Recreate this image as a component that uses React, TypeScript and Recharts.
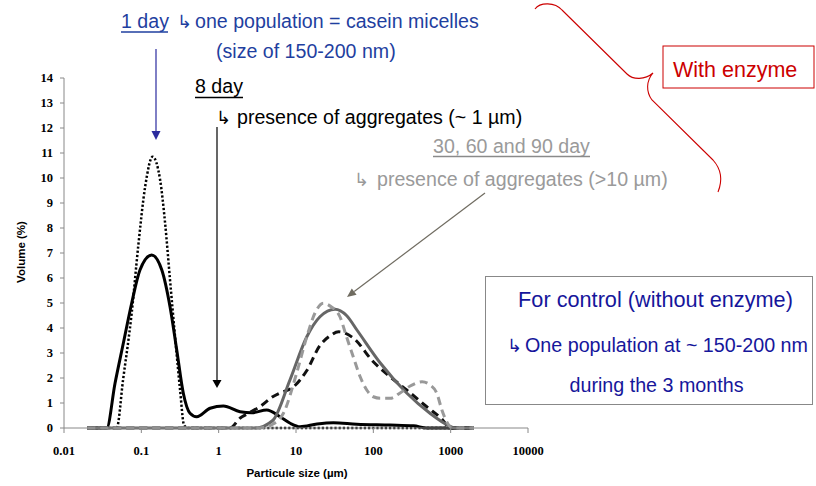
import React from 'react';
import { LineChart, Line, XAxis, YAxis } from 'recharts';

// Axis ticks
const sizeTicks = [0.01, 0.1, 1, 10, 100, 1000, 10000];
const volumeTicks = [0, 1, 2, 3, 4, 5, 6, 7, 8, 9, 10, 11, 12, 13, 14];

// 1 day (dotted black)
const day1Sizes = [0.02, 0.03, 0.04, 0.048, 0.058, 0.075, 0.091, 0.112, 0.14, 0.175, 0.203, 0.235, 0.273, 0.317, 0.356, 0.4, 0.6, 1, 2, 5, 10, 30, 100, 300, 1000, 2000];
const day1Volumes = [0, 0, 0, 0, 1.92, 4.59, 7.25, 9.65, 10.85, 9.92, 8.19, 5.92, 3.65, 1.52, 0.12, 0, 0, 0, 0, 0, 0, 0, 0, 0, 0, 0];

// 8 day (solid black)
const day8Sizes = [0.02, 0.03, 0.0357, 0.0457, 0.0585, 0.075, 0.096, 0.136, 0.184, 0.235, 0.287, 0.349, 0.426, 0.52, 0.775, 1.15, 1.89, 2.68, 4.19, 6.2, 8.4, 11.3, 18.7, 30.5, 61, 165, 331, 490, 1000, 2000];
const day8Volumes = [0, 0, 0, 1.79, 3.39, 4.99, 6.32, 6.92, 6.32, 4.85, 3.12, 1.39, 0.59, 0.45, 0.79, 0.88, 0.65, 0.61, 0.72, 0.45, 0.19, 0.05, 0.16, 0.21, 0.15, 0.12, 0.09, 0, 0, 0];

// 30 day (dashed black)
const day30Sizes = [0.02, 1.0, 1.4, 1.9, 2.3, 3.4, 5.0, 6.2, 9.3, 13.8, 20.4, 27.9, 35.5, 55, 100, 165, 270, 490, 790, 980, 2000];
const day30Volumes = [0, 0, 0, 0.4, 0.55, 0.85, 1.25, 1.4, 1.65, 2.3, 3.3, 3.7, 3.85, 3.6, 2.65, 2.05, 1.52, 0.85, 0.32, 0, 0];

// 60 day (solid grey)
const day60Sizes = [0.02, 1, 3, 5, 8.3, 13.8, 20.4, 32, 45, 62, 123, 270, 535, 940, 1150, 2000];
const day60Volumes = [0, 0, 0, 0.3, 1.9, 3.65, 4.45, 4.75, 4.5, 3.9, 2.6, 1.4, 0.6, 0.1, 0, 0];

// 90 day (dashed light grey)
const day90Sizes = [0.02, 1, 3.4, 5, 6.9, 10.2, 13.8, 17.6, 22.6, 28.5, 37, 45, 55, 67.6, 83, 100, 123, 165, 222, 300, 427, 543, 660, 770, 890, 1035, 2000];
const day90Volumes = [0, 0, 0, 0.15, 0.6, 2.2, 3.65, 4.6, 4.99, 4.85, 4.45, 3.65, 2.85, 2.05, 1.5, 1.25, 1.19, 1.19, 1.4, 1.68, 1.85, 1.72, 1.4, 0.72, 0.25, 0, 0];

const toRows = (xs: number[], ys: number[]) => xs.map((x, i) => ({ size: x, volume: ys[i] }));

const day1Rows = toRows(day1Sizes, day1Volumes);
const day8Rows = toRows(day8Sizes, day8Volumes);
const day30Rows = toRows(day30Sizes, day30Volumes);
const day60Rows = toRows(day60Sizes, day60Volumes);
const day90Rows = toRows(day90Sizes, day90Volumes);

const SANS = 'Liberation Sans, Arial, sans-serif';
const GLYPH = 'DejaVu Sans, sans-serif';
const BLUE = '#1f3f9f';
const NAVY = '#16169b';
const GREY_TXT = '#9a9a9a';
const RED = '#cc0000';

function Hook({ x, y, color }: { x: number; y: number; color: string }) {
  return (
    <text x={x} y={y} fontFamily={GLYPH} fontSize={18} fill={color}>↳</text>
  );
}

export default function App() {
  const tickStyle = { fill: '#000', fontFamily: 'Liberation Serif, Times New Roman, serif', fontWeight: 'bold', fontSize: 12.5 };
  return (
    <div style={{ position: 'absolute', left: 0, top: 0, width: 816, height: 486, background: '#fff' }}>
      <LineChart width={816} height={486} margin={{ top: 78, right: 288, bottom: 28, left: 24 }}>
        <XAxis
          type="number"
          dataKey="size"
          scale="log"
          domain={[0.01, 10000]}
          ticks={sizeTicks}
          allowDataOverflow
          interval={0}
          height={30}
          stroke="#888"
          tickSize={5}
          tickMargin={13}
          tick={tickStyle}
          tickFormatter={(v: number) => String(v)}
        />
        <YAxis
          type="number"
          domain={[0, 14]}
          ticks={volumeTicks}
          interval={0}
          width={40}
          stroke="#888"
          tickSize={4}
          tickMargin={7}
          tick={tickStyle}
        />
        <Line data={day1Rows} dataKey="volume" type="monotone" stroke="#000" strokeWidth={2.5} strokeDasharray="2.2 2" dot={false} isAnimationActive={false} />
        <Line data={day8Rows} dataKey="volume" type="monotone" stroke="#000" strokeWidth={3} dot={false} isAnimationActive={false} />
        <Line data={day30Rows} dataKey="volume" type="monotone" stroke="#111" strokeWidth={3} strokeDasharray="8 5" dot={false} isAnimationActive={false} />
        <Line data={day60Rows} dataKey="volume" type="monotone" stroke="#666" strokeWidth={3} dot={false} isAnimationActive={false} />
        <Line data={day90Rows} dataKey="volume" type="monotone" stroke="#999" strokeWidth={3} strokeDasharray="8 5" dot={false} isAnimationActive={false} />
      </LineChart>

      <svg width={816} height={486} style={{ position: 'absolute', left: 0, top: 0, pointerEvents: 'none' }}>
        {/* axis titles */}
        <text x={297} y={477} textAnchor="middle" fontFamily={SANS} fontWeight="bold" fontSize={11.5} fill="#000">Particule size (µm)</text>
        <text x={25} y={252} textAnchor="middle" fontFamily={SANS} fontWeight="bold" fontSize={11.5} fill="#000" transform="rotate(-90 25 252)">Volume (%)</text>

        {/* 1 day annotation */}
        <text x={121} y={28} fontFamily={SANS} fontSize={19.6} fill={BLUE}>1 day</text>
        <line x1={121} x2={168} y1={32} y2={32} stroke={BLUE} strokeWidth={1.3} />
        <Hook x={177} y={28} color={BLUE} />
        <text x={195} y={28} fontFamily={SANS} fontSize={19.6} fill={BLUE}>one population = casein micelles</text>
        <text x={216} y={58} fontFamily={SANS} fontSize={19.6} fill={BLUE}>(size of 150-200 nm)</text>
        <line x1={156} x2={156} y1={49} y2={132} stroke="#2b2b9e" strokeWidth={1.2} />
        <polygon points="151.5,131 160.5,131 156,140" fill="#2b2b9e" />

        {/* 8 day annotation */}
        <text x={195} y={93} fontFamily={SANS} fontSize={19.6} fill="#000">8 day</text>
        <line x1={195} x2={243} y1={97.5} y2={97.5} stroke="#000" strokeWidth={1.3} />
        <Hook x={216} y={124} color="#000" />
        <text x={237} y={124} fontFamily={SANS} fontSize={19.6} fill="#000">presence of aggregates (~ 1 µm)</text>
        <line x1={217} x2={217} y1={127} y2={381} stroke="#000" strokeWidth={1.2} />
        <polygon points="212.5,380 221.5,380 217,388" fill="#000" />

        {/* 30, 60, 90 day annotation */}
        <text x={433} y={153} fontFamily={SANS} fontSize={19.6} fill={GREY_TXT}>30, 60 and 90 day</text>
        <line x1={433} x2={590} y1={156.5} y2={156.5} stroke="#8a8a8a" strokeWidth={1.3} />
        <Hook x={354} y={186} color={GREY_TXT} />
        <text x={377} y={186} fontFamily={SANS} fontSize={19.6} fill={GREY_TXT}>presence of aggregates (&gt;10 µm)</text>
        <line x1={485} y1={193} x2={354.2} y2={291.6} stroke="#6f6b60" strokeWidth={1.2} />
        <polygon points="347,297 356.6,294.8 351.8,288.4" fill="#6f6b60" />

        {/* red brace + With enzyme */}
        <path d="M535,9 C540,2 555,2 562,10 L627,74 C633,80 645,80 653,73 C646,81 646,92 652,100 L713,160 C722,170 722,182 718,192" fill="none" stroke={RED} strokeWidth={1.1} />
        <rect x={663} y={46} width={151} height={42} fill="#fff" stroke={RED} strokeWidth={1} />
        <text x={673} y={77} fontFamily={SANS} fontSize={21.5} fill={RED}>With enzyme</text>

        {/* control box */}
        <rect x={485.5} y={276.5} width={327} height={128} fill="#fff" stroke="#888" strokeWidth={1} />
        <text x={655.5} y={306.5} textAnchor="middle" fontFamily={SANS} fontSize={21.7} fill={NAVY}>For control (without enzyme)</text>
        <Hook x={507} y={352} color={NAVY} />
        <text x={525} y={352} fontFamily={SANS} fontSize={19.7} fill={NAVY}>One population at ~ 150-200 nm</text>
        <text x={656.5} y={391.5} textAnchor="middle" fontFamily={SANS} fontSize={19.7} fill={NAVY}>during the 3 months</text>
      </svg>
    </div>
  );
}
